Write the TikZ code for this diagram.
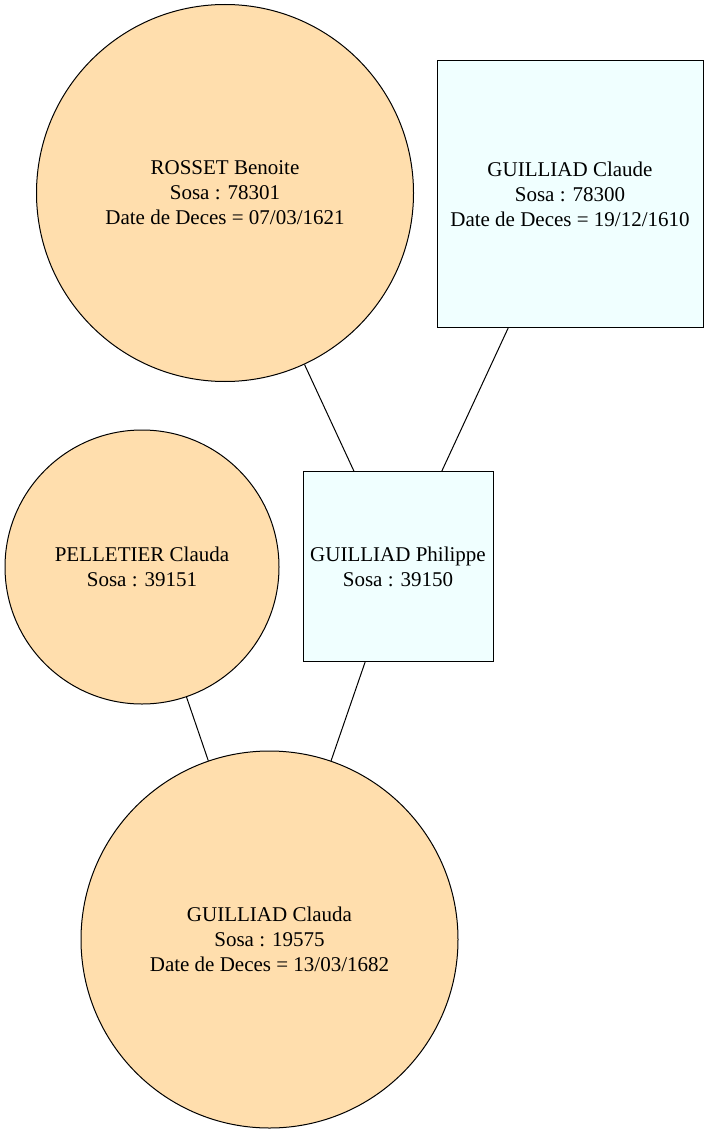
\documentclass[tikz,border=0pt]{standalone}
\usepackage{fontspec}
\setmainfont{Liberation Serif}
\definecolor{navajo}{RGB}{255,222,173}
\definecolor{azur}{RGB}{240,255,255}
\begin{document}
\begin{tikzpicture}[x=1pt, y=-1pt,
  femme/.style={circle, draw, line width=1pt, fill=\WHEAT, inner sep=0pt, align=center},
  homme/.style={rectangle, draw, line width=1pt, fill=\AZURE, inner sep=0pt, align=center},
  lien/.style={line width=1pt}]

\newcommand\WHEAT{navajo}
\newcommand\AZURE{azur}

\fontsize{21}{25}\selectfont
\useasboundingbox (0,0) rectangle (709,1134);

%% parents of philippe
\node[femme, minimum size=377pt] (rosset) at (225,193)
  {ROSSET Benoite\\Sosa : 78301\\Date de Deces = 07/03/1621};
\node[homme, minimum size=266pt] (claude) at (570,194)
  {GUILLIAD Claude\\Sosa : 78300\\Date de Deces = 19/12/1610};

%% parents of clauda
\node[femme, minimum size=274pt] (pelletier) at (142,567)
  {PELLETIER Clauda\\Sosa : 39151};
\node[homme, minimum size=190pt] (philippe) at (398,566.5)
  {GUILLIAD Philippe\\Sosa : 39150};

%% child
\node[femme, minimum size=377pt] (clauda) at (269.5,939.5)
  {GUILLIAD Clauda\\Sosa : 19575\\Date de Deces = 13/03/1682};

\draw[lien] (rosset) -- (philippe);
\draw[lien] (claude) -- (philippe);
\draw[lien] (pelletier) -- (clauda);
\draw[lien] (philippe) -- (clauda);
\end{tikzpicture}
\end{document}
